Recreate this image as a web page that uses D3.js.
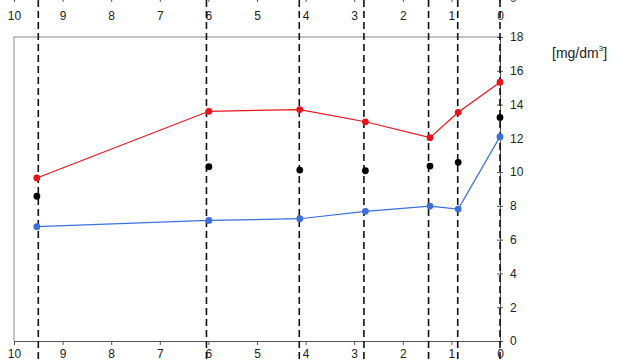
<!DOCTYPE html>
<html>
<head>
<meta charset="utf-8">
<script src="https://cdn.jsdelivr.net/npm/d3@7"></script>
<style>
  html, body { margin: 0; padding: 0; background: #fff; }
  svg { display: block; font-family: "Liberation Sans", Arial, sans-serif; }
</style>
</head>
<body>
<svg id="chart" width="627" height="361"></svg>
<script>
// Distance ticks along the profile (reversed: 10 on the left, 0 on the right)
const distTicks = [10, 9, 8, 7, 6, 5, 4, 3, 2, 1, 0];
// Concentration ticks on the right-hand axis
const concTicks = [0, 2, 4, 6, 8, 10, 12, 14, 16, 18];
// Sampling stations (dashed verticals)
const stations = [9.5, 6.04, 4.13, 2.8, 1.47, 0.87, 0];
// Distance of each measurement
const sampleDist = [9.53, 5.99, 4.12, 2.77, 1.44, 0.86, 0];
// Measured concentrations [mg/dm3]
const redSeries   = [9.65, 13.6, 13.7, 12.98, 12.04, 13.54, 15.32];
const blackSeries = [8.57, 10.32, 10.12, 10.08, 10.36, 10.58, 13.24];
const blueSeries  = [6.77, 7.14, 7.24, 7.68, 7.99, 7.81, 12.1];

const svg = d3.select("#chart");
const plotLeft = 14, plotRight = 500, plotTop = 37, plotBottom = 341;

const x = d3.scaleLinear().domain([10, 0]).range([plotLeft, plotRight]);
const y = d3.scaleLinear().domain([0, 18]).range([plotBottom, plotTop]);

// Frame (top and left borders)
svg.append("line").attr("x1", plotLeft).attr("x2", plotRight).attr("y1", plotTop).attr("y2", plotTop)
  .attr("stroke", "#8a8a8a").attr("stroke-width", 1);
svg.append("line").attr("x1", plotLeft).attr("x2", plotLeft).attr("y1", plotTop).attr("y2", plotBottom)
  .attr("stroke", "#8a8a8a").attr("stroke-width", 1);

// Bottom distance axis
const xAxis = d3.axisBottom(x).tickValues(distTicks).tickSize(4).tickSizeOuter(0)
  .tickFormat(d3.format("d"));
const gx = svg.append("g").attr("transform", `translate(0,${plotBottom})`).call(xAxis);
gx.select(".domain").attr("stroke", "#555");
gx.selectAll(".tick line").attr("stroke", "#555");
gx.selectAll(".tick text").attr("font-size", 12).attr("fill", "#222")
  .attr("font-family", "Liberation Sans, Arial, sans-serif").attr("dy", "0.85em");

// Top distance axis (continuation from the panel above)
const xAxisTop = d3.axisBottom(x).tickValues(distTicks).tickSize(4).tickSizeOuter(0)
  .tickPadding(7).tickFormat(d3.format("d"));
const gxTop = svg.append("g").attr("transform", "translate(0,-2)").call(xAxisTop);
gxTop.select(".domain").attr("stroke", "#555");
gxTop.selectAll(".tick line").attr("stroke", "#555");
gxTop.selectAll(".tick text").attr("font-size", 12).attr("fill", "#222")
  .attr("font-family", "Liberation Sans, Arial, sans-serif").attr("dy", "0.95em");
svg.append("text").attr("x", 510).attr("y", 2).attr("font-size", 12).attr("fill", "#222")
  .text("0");

// Right concentration axis
const yAxis = d3.axisRight(y).tickValues(concTicks).tickSize(3).tickSizeOuter(0).tickPadding(7);
const gy = svg.append("g").attr("transform", `translate(${plotRight},0)`).call(yAxis);
gy.select(".domain").attr("stroke", "#555");
gy.selectAll(".tick line").attr("stroke", "#555").attr("x1", -3);
gy.selectAll(".tick text").attr("font-size", 12).attr("fill", "#222")
  .attr("font-family", "Liberation Sans, Arial, sans-serif");

// Unit label
const unit = svg.append("text").attr("x", 552).attr("y", 58).attr("font-size", 14).attr("fill", "#222");
unit.append("tspan").text("[mg/dm");
unit.append("tspan").attr("font-size", 8).attr("dy", -7).text("3");
unit.append("tspan").attr("dy", 7).text("]");

// Dashed station lines
svg.append("g").selectAll("line").data(stations).join("line")
  .attr("x1", d => x(d)).attr("x2", d => x(d))
  .attr("y1", 0).attr("y2", 361)
  .attr("stroke", "#111").attr("stroke-width", 1.6)
  .attr("stroke-dasharray", "7,4");

const line = d3.line().x((d, i) => x(sampleDist[i])).y(d => y(d));

function series(values, color, withLine) {
  if (withLine) {
    svg.append("path").datum(values).attr("d", line)
      .attr("fill", "none").attr("stroke", color).attr("stroke-width", 1.2);
  }
  svg.append("g").selectAll("circle").data(values).join("circle")
    .attr("cx", (d, i) => x(sampleDist[i])).attr("cy", d => y(d))
    .attr("r", 3.4).attr("fill", color);
}

series(redSeries, "#e8141b", true);
series(blueSeries, "#3a6fdc", true);
series(blackSeries, "#000", false);
</script>
</body>
</html>
